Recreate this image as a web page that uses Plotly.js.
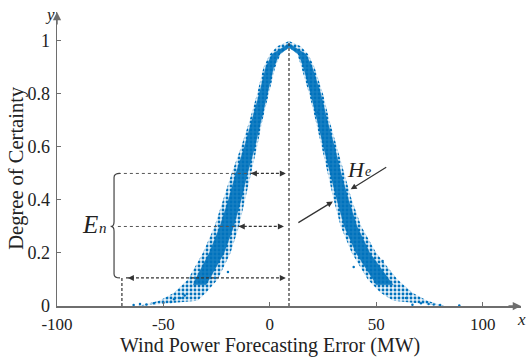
<!DOCTYPE html>
<html>
<head>
<meta charset="utf-8">
<script src="https://cdn.plot.ly/plotly-3.0.1.min.js"></script>
<style>html,body{margin:0;padding:0;background:#fff;}#chart{width:527px;height:358px;}</style>
</head>
<body>
<div id="chart"></div>
<script>
// ---- Data ----
// Cloud-model expectation (MW)
var Ex = 9;
var xTicks = [-100, -50, 0, 50, 100];
var xTickText = ['-100', '-50', '0', '50', '100'];
var yTicks = [0, 0.2, 0.4, 0.6, 0.8, 1];
var yTickText = ['0', '0.2', '0.4', '0.6', '0.8', '1'];

// Outer envelope of the cloud drops (sparse edge)
var envYOut = [0, 0.02, 0.05, 0.1, 0.2, 0.3, 0.4, 0.5, 0.6, 0.7, 0.8, 0.9, 0.95, 0.98, 1.0];
var envLeftOut = [-62, -52, -45, -38.5, -31.5, -26, -22, -18, -13.5, -9.5, -6, -3, 0, 3.5, 9];
var envRightOut = [82, 74, 67, 60, 50, 43, 38.5, 35, 31.5, 28, 25, 21, 18, 14.5, 9];
var envYIn = [0.02, 0.05, 0.1, 0.2, 0.3, 0.4, 0.5, 0.6, 0.7, 0.8, 0.9, 0.95, 0.975];
var envLeftIn = [-34, -30, -24.5, -18.5, -14.5, -11.5, -8.8, -6, -3.5, -0.5, 2.5, 5, 9];
var envRightIn = [58, 52, 46, 38.5, 33.3, 30, 27.2, 24.5, 21.5, 18.5, 15, 13, 9];

// Dense core of the cloud drops
var coreYOut = [0.08, 0.1, 0.2, 0.3, 0.4, 0.5, 0.6, 0.7, 0.8, 0.9, 0.95, 0.99];
var coreLeftOut = [-36, -35, -28.5, -23.5, -19.5, -16, -12, -8.5, -5, -2, 1, 9];
var coreRightOut = [58, 56, 47, 41, 37, 33.5, 30.5, 27, 24, 20, 17, 9];
var coreYIn = [0.08, 0.1, 0.2, 0.3, 0.4, 0.5, 0.6, 0.7, 0.8, 0.9, 0.95, 0.975];
var coreLeftIn = [-30, -28.5, -21.5, -17, -13.5, -10.5, -7, -4.2, -1.2, 1.8, 4.5, 9];
var coreRightIn = [50, 48.5, 40.5, 35, 31.5, 28.2, 25.2, 22.2, 19.2, 15.8, 13.5, 9];

// Stray drops in the tails
var strayX = [-64, -61, -58, -54.5, -50, -46.5, -45, -42, -40, 39.4, 53, 64, 66, 67, 71, 74.6, 77, 80, 89, -19.7, 22.5];
var strayY = [0.004, 0.008, 0.006, 0.01, 0.012, 0.015, 0.025, 0.03, 0.04, 0.147, 0.17, 0.03, 0.045, 0.005, 0.01, 0.008, 0.006, 0.004, 0.002, 0.128, 0.73];

// Annotation levels (degree of certainty)
var levelTop = 0.5, levelMid = 0.3, levelLow = 0.106;

// ---- Build polygons ----
function band(yOut, lOut, rOut, yIn, lIn, rIn) {
  var xs = [], ys = [], i;
  for (i = 0; i < yOut.length; i++) { xs.push(lOut[i]); ys.push(yOut[i]); }
  for (i = yOut.length - 1; i >= 0; i--) { xs.push(rOut[i]); ys.push(yOut[i]); }
  for (i = 0; i < yIn.length; i++) { xs.push(rIn[i]); ys.push(yIn[i]); }
  for (i = yIn.length - 1; i >= 0; i--) { xs.push(lIn[i]); ys.push(yIn[i]); }
  xs.push(lOut[0]); ys.push(yOut[0]);
  return {x: xs, y: ys};
}
var env = band(envYOut, envLeftOut, envRightOut, envYIn, envLeftIn, envRightIn);
var core = band(coreYOut, coreLeftOut, coreRightOut, coreYIn, coreLeftIn, coreRightIn);

var blue = '#0072BD';
var traces = [
  {x: env.x, y: env.y, type: 'scatter', mode: 'lines', fill: 'toself',
   line: {width: 0, color: blue}, fillcolor: 'rgba(0,114,189,0.10)',
   fillpattern: {shape: '.', fgcolor: blue, bgcolor: 'rgba(0,114,189,0.10)', size: 4, solidity: 0.4},
   hoverinfo: 'skip'},
  {x: core.x, y: core.y, type: 'scatter', mode: 'lines', fill: 'toself',
   line: {width: 0.5, color: 'rgba(0,114,189,0.6)'}, fillcolor: 'rgba(0,114,189,0.9)', hoverinfo: 'skip'},
  {x: strayX, y: strayY, type: 'scatter', mode: 'markers',
   marker: {color: blue, size: 2.5}, hoverinfo: 'skip', cliponaxis: false}
];

var serif = '"Liberation Serif", "Times New Roman", serif';
var axisCol = '#6e6e6e';
var dark = '#333333';
var dashSty = '3px,2px';

var shapes = [
  {type: 'line', xref: 'x', yref: 'y', x0: Ex, x1: Ex, y0: 0, y1: 1.0, line: {color: dark, width: 1.2, dash: dashSty}},
  {type: 'line', xref: 'x', yref: 'y', x0: -71.4, x1: -8.9, y0: levelTop, y1: levelTop, line: {color: '#555', width: 1, dash: 'dot'}},
  {type: 'line', xref: 'x', yref: 'y', x0: -8.9, x1: 7.5, y0: levelTop, y1: levelTop, line: {color: dark, width: 1.2, dash: dashSty}},
  {type: 'line', xref: 'x', yref: 'y', x0: -71.4, x1: -14.6, y0: levelMid, y1: levelMid, line: {color: '#555', width: 1, dash: 'dot'}},
  {type: 'line', xref: 'x', yref: 'y', x0: -14.6, x1: 6.6, y0: levelMid, y1: levelMid, line: {color: dark, width: 1.2, dash: dashSty}},
  {type: 'line', xref: 'x', yref: 'y', x0: -67.6, x1: 7.5, y0: levelLow, y1: levelLow, line: {color: dark, width: 1.2, dash: dashSty}},
  {type: 'line', xref: 'x', yref: 'y', x0: -69.5, x1: -69.5, y0: 0, y1: levelLow, line: {color: dark, width: 1.2, dash: dashSty}},
  {type: 'path', xref: 'x', yref: 'y',
   path: 'M -70.4,0.5 Q -73.2,0.5 -73.2,0.485 L -73.2,0.318 Q -73.2,0.30 -74.8,0.30 Q -73.2,0.30 -73.2,0.282 L -73.2,0.121 Q -73.2,0.106 -70.4,0.106',
   line: {color: '#444', width: 1.2}}
];

function head(x, y, ax, ay) {
  return {x: x, y: y, xref: 'x', yref: 'y', ax: ax, ay: ay, text: '', showarrow: true,
          arrowhead: 2, arrowsize: 1, arrowwidth: 1.2, arrowcolor: dark};
}
function label(x, y, txt, size, italic, xr, yr) {
  return {x: x, y: y, xref: xr || 'x', yref: yr || 'y', text: italic ? '<i>' + txt + '</i>' : txt, showarrow: false,
          font: {family: serif, size: size, color: '#222'}, xanchor: 'center', yanchor: 'middle'};
}

var annotations = [
  // axis arrows
  {x: 118, y: 0, xref: 'x', yref: 'y', ax: -14, ay: 0, text: '', showarrow: true, arrowhead: 2, arrowsize: 1.1, arrowwidth: 1.5, arrowcolor: axisCol},
  {x: -100, y: 1.109, xref: 'x', yref: 'y', ax: 0, ay: 14, text: '', showarrow: true, arrowhead: 2, arrowsize: 1.1, arrowwidth: 1.5, arrowcolor: axisCol},
  label(-0.016, 0.99, 'y', 17, true, 'paper', 'paper'),
  label(1.0, -0.045, 'x', 17, true, 'paper', 'paper'),
  // axis titles
  {x: 0, y: -0.133, xref: 'x', yref: 'paper', text: 'Wind Power Forecasting Error (MW)', showarrow: false,
   font: {family: serif, size: 20, color: '#222'}, xanchor: 'center', yanchor: 'middle'},
  {x: -0.088, y: 0.471, xref: 'paper', yref: 'paper', text: 'Degree of Certainty', textangle: -90, showarrow: false,
   font: {family: serif, size: 20.5, color: '#222'}, xanchor: 'center', yanchor: 'middle'},
  // dashed arrow heads
  head(-8.9, levelTop, 7, 0), head(7.5, levelTop, -7, 0),
  head(-14.6, levelMid, 7, 0), head(6.6, levelMid, -7, 0),
  head(-66.7, levelLow, 7, 0), head(7.5, levelLow, -7, 0),
  // He arrows
  head(38.0, 0.44, 37, -23), head(29.6, 0.394, -36, 22),
  // Ex arrow
  head(9.9, -0.013, 18, 12),
  // symbols
  label(-84.3, 0.307, 'E', 25, true), label(-78.6, 0.293, 'n', 15, true),
  label(40.4, 0.515, 'H', 22, true), label(46.2, 0.508, 'e', 14, true),
  label(23.2, -0.072, 'E', 24, true), label(29.3, -0.086, 'x', 15, true)
];

var layout = {
  width: 527, height: 358,
  margin: {l: 57, r: 6, t: 12, b: 52, pad: 0},
  paper_bgcolor: '#ffffff', plot_bgcolor: '#ffffff',
  showlegend: false, hovermode: false,
  font: {family: serif, color: '#222'},
  xaxis: {range: [-100, 118], showline: true, linecolor: axisCol, linewidth: 1.5,
          ticks: 'inside', ticklen: 4, tickcolor: axisCol, tickwidth: 1,
          tickvals: xTicks, ticktext: xTickText, showgrid: false, zeroline: false,
          tickfont: {family: serif, size: 17, color: '#222'}, ticklabelstandoff: 2, fixedrange: true},
  yaxis: {range: [0, 1.109], showline: true, linecolor: axisCol, linewidth: 1.5,
          ticks: 'inside', ticklen: 4, tickcolor: axisCol, tickwidth: 1,
          tickvals: yTicks, ticktext: yTickText, showgrid: false, zeroline: false,
          tickfont: {family: serif, size: 18, color: '#222'}, ticklabelstandoff: 2, fixedrange: true},
  shapes: shapes,
  annotations: annotations
};

Plotly.newPlot('chart', traces, layout, {displayModeBar: false, staticPlot: true});
</script>
</body>
</html>
